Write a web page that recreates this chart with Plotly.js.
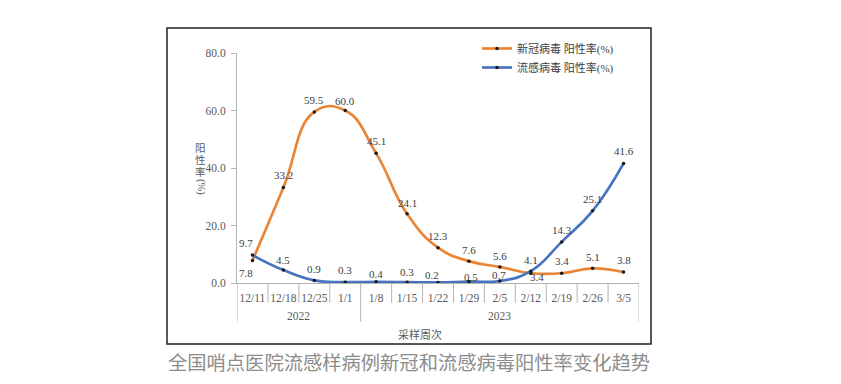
<!DOCTYPE html>
<html>
<head>
<meta charset="utf-8">
<script src="https://cdn.plot.ly/plotly-3.0.1.min.js"></script>
<style>html,body{margin:0;padding:0;background:#fff;}#chart{width:841px;height:384px;}</style>
</head>
<body>
<div id="chart"></div>
<script>
// ---- data ----
const weeks = ['12/11','12/18','12/25','1/1','1/8','1/15','1/22','1/29','2/5','2/12','2/19','2/26','3/5'];
const weekYear = ['2022','2022','2022','2022','2023','2023','2023','2023','2023','2023','2023','2023','2023'];
const covidName = '新冠病毒 阳性率(%)';
const fluName = '流感病毒 阳性率(%)';
const covid = [7.8, 33.2, 59.5, 60.0, 45.1, 24.1, 12.3, 7.6, 5.6, 3.4, 3.4, 5.1, 3.8];
const flu = [9.7, 4.5, 0.9, 0.3, 0.4, 0.3, 0.2, 0.5, 0.7, 4.1, 14.3, 25.1, 41.6];
const yTicks = [0, 20, 40, 60, 80];
const xTitle = '采样周次';
const yTitleChars = ['阳', '性', '率'];
const yTitleUnit = '(%)';
const caption = '全国哨点医院流感样病例新冠和流感病毒阳性率变化趋势';

// ---- label offsets (px) ----
const covidOff = [[-6,-12],[0,13],[0,11.5],[0,10],[0,12],[0,11],[0,12],[0,11.5],[0,11],[6,-4],[0,12],[0,11],[0,12]];
const fluOff = [[-6,12],[0,10.5],[0,11.7],[0,11.7],[0,8],[0,10],[-6,7],[2,5],[-1,6],[0,11.5],[0,11.5],[0,12],[0,12]];

const serif = 'Liberation Serif, Noto Sans CJK SC, serif';
const orange = '#EA8536';
const blue = '#4873C0';
const gray = '#b3b3b3';

function trace(name, vals, color) {
  return {
    x: weeks, y: vals, name: name, type: 'scatter', mode: 'lines+markers',
    line: {color: color, width: 2.7, shape: 'spline', smoothing: 1.3},
    marker: {color: '#1a1a1a', size: 3.5},
    hoverinfo: 'x+y'
  };
}
const data = [trace(covidName, covid, orange), trace(fluName, flu, blue)];

const annotations = [];
function addLabels(vals, offs) {
  vals.forEach((v, i) => {
    annotations.push({
      x: weeks[i], y: v, xref: 'x', yref: 'y', text: v.toFixed(1), showarrow: false,
      xshift: offs[i][0], yshift: offs[i][1],
      font: {family: serif, size: 11, color: '#404040'}
    });
  });
}
addLabels(covid, covidOff);
addLabels(flu, fluOff);

// plot-area geometry helpers (paper coords)
const H = 230;
const py = px => (283 - px) / H;
const pxX = px => (px - 237) / 402;

// separators and year groups
const shapes = [];
const innerBottom = py(302.7), outerBottom = py(321.7);
for (let i = 0; i <= weeks.length; i++) {
  const isGroup = i === 0 || i === weeks.length || weekYear[i] !== weekYear[i - 1];
  shapes.push({type: 'line', xref: 'x', yref: 'paper', x0: i - 0.5, x1: i - 0.5,
    y0: 0, y1: isGroup ? outerBottom : innerBottom, line: {color: gray, width: 1}});
}
const years = [...new Set(weekYear)];
years.forEach(yr => {
  const idx = weekYear.map((w, i) => w === yr ? i : -1).filter(i => i >= 0);
  const mid = (idx[0] + idx[idx.length - 1]) / 2;
  annotations.push({x: mid, y: py(315.7), xref: 'x', yref: 'paper', text: yr, showarrow: false,
    yanchor: 'middle', font: {family: serif, size: 11.5, color: '#595959'}});
});

// frame
shapes.push({type: 'rect', xref: 'paper', yref: 'paper', x0: pxX(167), x1: pxX(651), y0: py(344), y1: py(28),
  line: {color: '#222', width: 1.5}, fillcolor: 'rgba(0,0,0,0)'});

// titles
annotations.push({x: pxX(420), y: py(334), xref: 'paper', yref: 'paper', text: xTitle, showarrow: false,
  yanchor: 'middle', font: {family: serif, size: 11, color: '#595959'}});
const charY = [148, 160, 171.7];
yTitleChars.forEach((c, i) => {
  annotations.push({x: pxX(193), y: py(charY[i]), xref: 'paper', yref: 'paper', text: c, showarrow: false,
    yanchor: 'middle', font: {family: serif, size: 10.5, color: '#595959'}});
});
annotations.push({x: pxX(193), y: py(187), xref: 'paper', yref: 'paper', text: yTitleUnit, showarrow: false,
  textangle: 90, yanchor: 'middle', font: {family: serif, size: 10.5, color: '#595959'}});
annotations.push({x: pxX(409), y: py(362), xref: 'paper', yref: 'paper', text: caption, showarrow: false,
  yanchor: 'middle', font: {family: 'Noto Sans CJK SC, sans-serif', size: 19.3, color: '#8c8c8c'}});

const layout = {
  width: 841, height: 384,
  margin: {l: 237, r: 202, t: 53, b: 101, pad: 0},
  paper_bgcolor: '#fff', plot_bgcolor: '#fff',
  showlegend: true,
  legend: {x: pxX(477), y: py(34), xanchor: 'left', yanchor: 'top', bgcolor: 'rgba(0,0,0,0)',
    font: {family: serif, size: 11, color: '#404040'}},
  xaxis: {type: 'category', showgrid: false, zeroline: false, showline: true, linecolor: gray, linewidth: 1,
    ticks: '', ticklabelstandoff: 4, range: [-0.5, weeks.length - 0.5],
    tickfont: {family: serif, size: 11.5, color: '#595959'}},
  yaxis: {range: [0, 80], tickvals: yTicks, ticktext: yTicks.map(v => v.toFixed(1)), showgrid: false, zeroline: false,
    showline: true, linecolor: gray, linewidth: 1, ticks: 'outside', ticklen: 5, tickcolor: gray, ticklabelstandoff: 3,
    tickfont: {family: serif, size: 11.5, color: '#595959'}},
  shapes: shapes,
  annotations: annotations
};
Plotly.newPlot('chart', data, layout, {displayModeBar: false, staticPlot: true});
</script>
</body>
</html>
